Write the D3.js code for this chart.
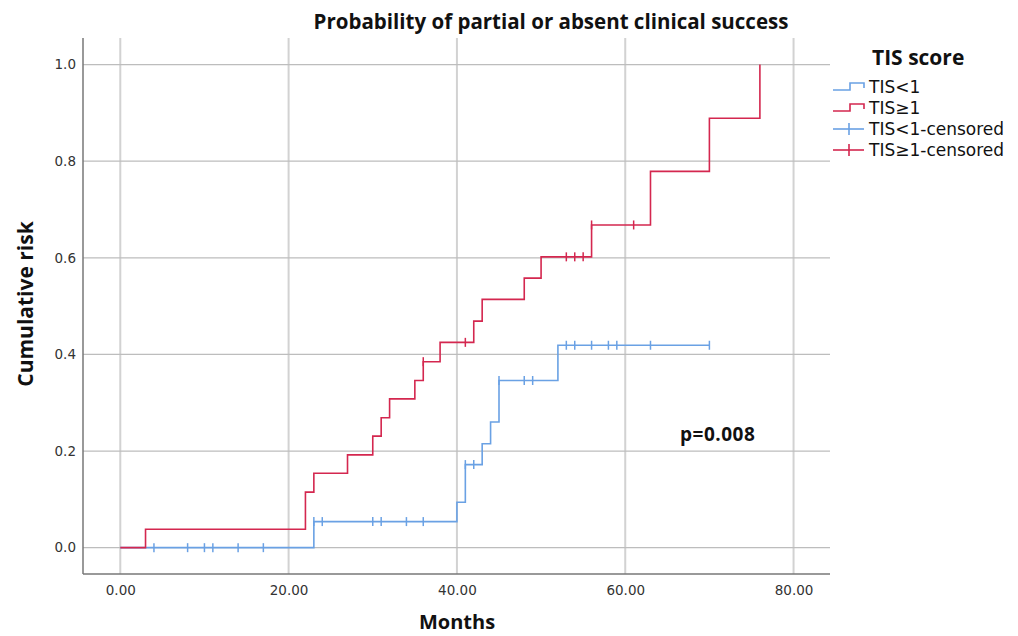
<!DOCTYPE html>
<html>
<head>
<meta charset="utf-8">
<script src="https://cdn.jsdelivr.net/npm/d3@7"></script>
<style>
  body { margin: 0; background: #fff; }
  svg { display: block; }
  text { font-family: "DejaVu Sans", sans-serif; }
</style>
</head>
<body>
<svg id="chart"></svg>
<script>
// TIS<1 group: step times and cumulative risk
var lowTimes = [0, 23, 40, 41, 43, 44, 45, 52, 70];
var lowRisk  = [0, 0.054, 0.094, 0.172, 0.215, 0.260, 0.346, 0.419, 0.419];
var lowCensored = [4, 8, 10, 11, 14, 17, 23, 24, 30, 31, 34, 36, 41, 42, 45, 48, 49, 53, 54, 56, 58, 59, 63, 70];

// TIS>=1 group
var highTimes = [0, 3, 22, 23, 27, 30, 31, 32, 35, 36, 38, 42, 43, 48, 50, 56, 63, 70, 76];
var highRisk  = [0, 0.038, 0.115, 0.154, 0.192, 0.231, 0.269, 0.308, 0.346, 0.385, 0.425, 0.469, 0.514, 0.558, 0.602, 0.668, 0.779, 0.889, 1.0];
var highCensored = [36, 41, 53, 54, 55, 56, 61];

var xTicks = [0, 20, 40, 60, 80];
var yTicks = [0, 0.2, 0.4, 0.6, 0.8, 1.0];
var legendLabels = ["TIS<1", "TIS\u22651", "TIS<1-censored", "TIS\u22651-censored"];

var colors = { low: "#6aa1e4", high: "#d4274f" };

var screen = { width: 1018, height: 636 };
var plot = { left: 83, right: 830, top: 38, bottom: 574 };

var svg = d3.select("#chart")
  .attr("width", screen.width)
  .attr("height", screen.height);

var xScale = d3.scaleLinear()
  .domain([-4.43, 84.33])
  .range([plot.left, plot.right]);

var yScale = d3.scaleLinear()
  .domain([-0.0545, 1.055])
  .range([plot.bottom, plot.top]);

// gridlines
svg.append("g").selectAll("line.vgrid")
  .data(xTicks).enter().append("line")
  .attr("x1", d => xScale(d)).attr("x2", d => xScale(d))
  .attr("y1", plot.top).attr("y2", plot.bottom)
  .style("stroke", "#d2d2d2").style("stroke-width", 2);

svg.append("g").selectAll("line.hgrid")
  .data(yTicks).enter().append("line")
  .attr("x1", plot.left).attr("x2", plot.right)
  .attr("y1", d => yScale(d)).attr("y2", d => yScale(d))
  .style("stroke", "#bdbdbd").style("stroke-width", 1.3);

// axes (labels only, no tick marks)
var yAxis = d3.axisLeft(yScale).tickValues(yTicks).tickSize(0).tickPadding(7)
  .tickFormat(d3.format(".1f"));
var gy = svg.append("g").attr("transform", "translate(" + plot.left + ",0)").call(yAxis);
gy.select(".domain").remove();
gy.selectAll("text").style("font-size", "13.5px").style("fill", "#333")
  .style("font-family", "DejaVu Sans");

var xAxis = d3.axisBottom(xScale).tickValues(xTicks).tickSize(0).tickPadding(11)
  .tickFormat(d3.format(".2f"));
var gx = svg.append("g").attr("transform", "translate(0," + plot.bottom + ")").call(xAxis);
gx.select(".domain").remove();
gx.selectAll("text").style("font-size", "13.5px").style("fill", "#333")
  .style("font-family", "DejaVu Sans");

svg.append("line")
  .attr("x1", plot.left).attr("x2", plot.left)
  .attr("y1", plot.top).attr("y2", plot.bottom)
  .style("stroke", "#777").style("stroke-width", 1.5);
svg.append("line")
  .attr("x1", plot.left).attr("x2", plot.right)
  .attr("y1", plot.bottom).attr("y2", plot.bottom)
  .style("stroke", "#777").style("stroke-width", 1.5);

// step curves
var stepLine = d3.line()
  .x(d => xScale(d[0]))
  .y(d => yScale(d[1]))
  .curve(d3.curveStepAfter);

var lowPts = lowTimes.map((t, i) => [t, lowRisk[i]]);
var highPts = highTimes.map((t, i) => [t, highRisk[i]]);

svg.append("path").datum(lowPts).attr("d", stepLine)
  .attr("fill", "none").style("stroke", colors.low).style("stroke-width", 1.6);
svg.append("path").datum(highPts).attr("d", stepLine)
  .attr("fill", "none").style("stroke", colors.high).style("stroke-width", 1.6);

// risk level at a time (for censor marks)
var levelAt = function(times, risk, t) {
  var v = 0;
  times.forEach(function(tt, i) { if (tt <= t) v = risk[i]; });
  return v;
};

var drawCensor = function(list, times, risk, color) {
  svg.append("g").selectAll("line")
    .data(list).enter().append("line")
    .attr("x1", d => xScale(d)).attr("x2", d => xScale(d))
    .attr("y1", d => yScale(levelAt(times, risk, d)) - 4.5)
    .attr("y2", d => yScale(levelAt(times, risk, d)) + 4.5)
    .style("stroke", color).style("stroke-width", 1.5);
};
drawCensor(lowCensored, lowTimes, lowRisk, colors.low);
drawCensor(highCensored, highTimes, highRisk, colors.high);

// titles
svg.append("text")
  .attr("x", 551).attr("y", 29)
  .attr("text-anchor", "middle")
  .style("font-family", "Open Sans").style("font-weight", "bold").style("font-size", "20.5px")
  .style("fill", "#111")
  .text("Probability of partial or absent clinical success");

svg.append("text")
  .attr("transform", "translate(33,304) rotate(-90)")
  .attr("text-anchor", "middle")
  .style("font-family", "Open Sans").style("font-weight", "bold").style("font-size", "21px")
  .style("fill", "#111")
  .text("Cumulative risk");

svg.append("text")
  .attr("x", 457).attr("y", 629)
  .attr("text-anchor", "middle")
  .style("font-family", "Open Sans").style("font-weight", "bold").style("font-size", "20px")
  .style("fill", "#111")
  .text("Months");

svg.append("text")
  .attr("x", 680).attr("y", 441)
  .style("font-family", "Open Sans").style("font-weight", "bold").style("font-size", "19px")
  .style("letter-spacing", "0.5px")
  .style("fill", "#111")
  .text("p=0.008");

// legend
var legend = svg.append("g");
legend.append("text")
  .attr("x", 872).attr("y", 65)
  .style("font-family", "Open Sans").style("font-weight", "bold").style("font-size", "21px")
  .style("fill", "#111")
  .text("TIS score");

var legendY = [87, 108, 129, 150];
var legendColor = [colors.low, colors.high, colors.low, colors.high];

legendLabels.forEach(function(lab, i) {
  var y = legendY[i];
  if (i < 2) {
    legend.append("path")
      .attr("d", "M833," + (y + 3) + "H850V" + (y - 4) + "H864V" + (y + 1))
      .attr("fill", "none").style("stroke", legendColor[i]).style("stroke-width", 1.6);
  } else {
    legend.append("line")
      .attr("x1", 833).attr("x2", 864).attr("y1", y).attr("y2", y)
      .style("stroke", legendColor[i]).style("stroke-width", 1.6);
    legend.append("line")
      .attr("x1", 849).attr("x2", 849).attr("y1", y - 6).attr("y2", y + 6)
      .style("stroke", legendColor[i]).style("stroke-width", 1.6);
  }
  legend.append("text")
    .attr("x", 869).attr("y", y + 6)
    .style("font-size", "17px").style("fill", "#111")
    .text(lab);
});
</script>
</body>
</html>
